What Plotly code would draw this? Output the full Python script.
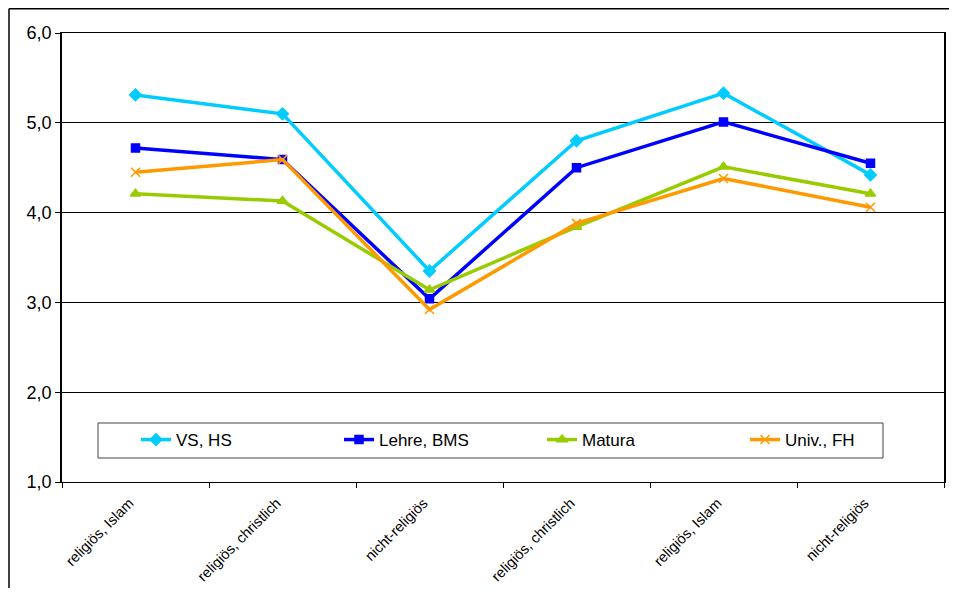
import plotly.graph_objects as go

categories = ["religiös, Islam", "religiös, christlich", "nicht-religiös",
              "religiös, christlich", "religiös, Islam", "nicht-religiös"]
x_pos = [0, 1, 2, 3, 4, 5]

vs_hs = [5.31, 5.10, 3.35, 4.80, 5.33, 4.42]
lehre_bms = [4.72, 4.59, 3.04, 4.50, 5.01, 4.55]
matura = [4.21, 4.13, 3.14, 3.84, 4.51, 4.21]
univ_fh = [4.45, 4.59, 2.92, 3.88, 4.38, 4.06]

series = [
    ("VS, HS", vs_hs, "#00CCFF", "diamond", 9),
    ("Lehre, BMS", lehre_bms, "#0000FF", "square", 8),
    ("Matura", matura, "#99CC00", "triangle-up", 9),
    ("Univ., FH", univ_fh, "#FF9900", "x-thin", 9),
]

fig = go.Figure()
for name, vals, color, sym, size in series:
    fig.add_trace(go.Scatter(
        x=x_pos, y=vals, name=name, mode="lines+markers",
        line=dict(color=color, width=3.5),
        marker=dict(symbol=sym, size=size, color=color,
                    line=dict(color=color, width=1.5)),
    ))

# page offset of the figure inside the browser body (default 8px body margin)
OFF = 8
W, H = 941, 580
ml, mt = 62 - OFF, 33 - OFF
mr = W - (944 - OFF)
mb = H - (482 - OFF)
pw, ph = W - ml - mr, H - mt - mb

def px_x(p):
    return (p - OFF - ml) / pw

def px_y(p):
    return (H - mb - (p - OFF)) / ph

frame = dict(color="black", width=1.5)
shapes = [
    dict(type="line", xref="paper", yref="paper",
         x0=px_x(9), x1=px_x(9), y0=px_y(605), y1=px_y(8.8), line=frame, layer="below"),
    dict(type="line", xref="paper", yref="paper",
         x0=px_x(9), x1=px_x(965), y0=px_y(8.8), y1=px_y(8.8), line=frame, layer="below"),
    dict(type="rect", xref="paper", yref="paper",
         x0=px_x(98), x1=px_x(883), y0=px_y(458), y1=px_y(423),
         line=dict(color="#444444", width=1), fillcolor="white", layer="above"),
]

fig.update_layout(
    width=W, height=H,
    margin=dict(l=ml, r=mr, t=mt, b=mb, pad=0, autoexpand=False),
    paper_bgcolor="white", plot_bgcolor="white",
    font=dict(family="Arial, Liberation Sans, sans-serif", color="black"),
    separators=",.",
    showlegend=True,
    legend=dict(orientation="h", x=px_x(136), y=px_y(440), yanchor="middle",
                xanchor="left", bgcolor="rgba(0,0,0,0)", borderwidth=0,
                font=dict(size=17, family="Arial, Liberation Sans, sans-serif"),
                entrywidth=158, entrywidthmode="pixels", itemwidth=30),
    shapes=shapes,
    xaxis=dict(
        range=[-0.5, 5.5], tickmode="array", tickvals=x_pos, ticktext=categories,
        tickangle=-45, ticks="", showgrid=False, zeroline=False,
        showline=True, linecolor="black", linewidth=1, mirror=True,
        tickfont=dict(size=14.5), automargin=False,
        ticklabelstandoff=6, ticklabelshift=-6,
        minor=dict(tickmode="array", tickvals=[-0.5, 0.5, 1.5, 2.5, 3.5, 4.5, 5.5],
                   ticks="outside", ticklen=5, tickcolor="black", showgrid=False),
    ),
    yaxis=dict(
        range=[1, 6], tickmode="array", tickvals=[1, 2, 3, 4, 5, 6],
        tickformat=".1f", ticks="outside", ticklen=5, tickcolor="black",
        showgrid=True, gridcolor="black", gridwidth=1, zeroline=False,
        showline=True, linecolor="black", linewidth=1.5, mirror=True,
        tickfont=dict(size=18), automargin=False,
    ),
)

fig.write_html("out.html")
